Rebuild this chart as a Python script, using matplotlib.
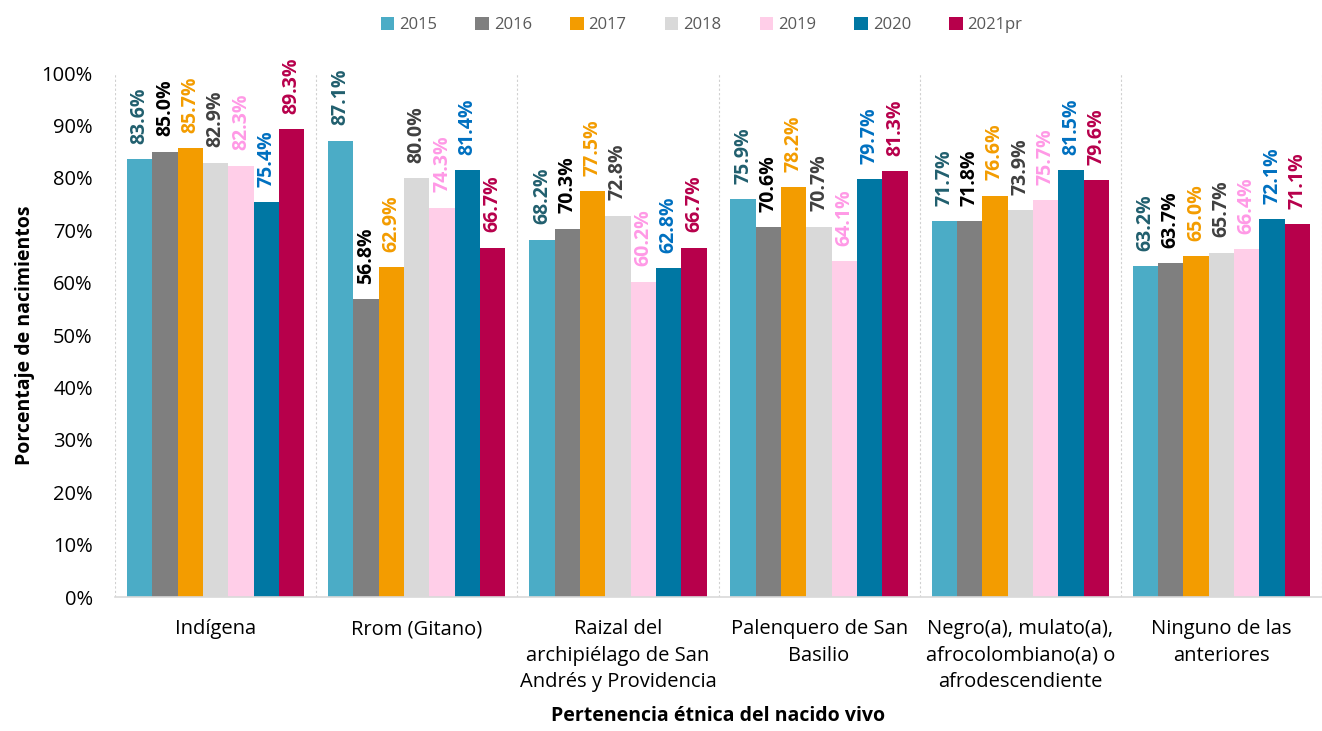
import numpy as np
import matplotlib.pyplot as plt

plt.rcParams['font.family'] = ['Open Sans', 'DejaVu Sans']

categorias = ['Indígena', 'Rrom (Gitano)', 'Raizal del\narchipiélago de San\nAndrés y Providencia',
              'Palenquero de San\nBasilio', 'Negro(a), mulato(a),\nafrocolombiano(a) o\nafrodescendiente',
              'Ninguno de las\nanteriores']
anios = ['2015', '2016', '2017', '2018', '2019', '2020', '2021pr']

v2015 = [83.6, 87.1, 68.2, 75.9, 71.7, 63.2]
v2016 = [85.0, 56.8, 70.3, 70.6, 71.8, 63.7]
v2017 = [85.7, 62.9, 77.5, 78.2, 76.6, 65.0]
v2018 = [82.9, 80.0, 72.8, 70.7, 73.9, 65.7]
v2019 = [82.3, 74.3, 60.2, 64.1, 75.7, 66.4]
v2020 = [75.4, 81.4, 62.8, 79.7, 81.5, 72.1]
v2021 = [89.3, 66.7, 66.7, 81.3, 79.6, 71.1]
series = [v2015, v2016, v2017, v2018, v2019, v2020, v2021]

colores = ['#4BACC6', '#7F7F7F', '#F39C00', '#D9D9D9', '#FFCEE8', '#0077A3', '#B7004B']
colores_txt = ['#215F6E', '#000000', '#F39C00', '#404040', '#FF99E6', '#0070C0', '#B7004B']

fig = plt.figure(figsize=(13.22, 7.31), dpi=100)
ax = fig.add_axes([0.087, 0.1833, 0.913, 0.7168])

x = np.arange(len(categorias))
w = 0.126
for i, (vals, c, ct) in enumerate(zip(series, colores, colores_txt)):
    pos = x + (i - 3) * w
    y = np.array(vals) / 100
    ax.bar(pos, y, width=w, color=c, label=anios[i], zorder=2)
    for px, py, v in zip(pos, y, vals):
        ax.annotate(f'{v:.1f}%', (px, py), xytext=(0, 11), textcoords='offset points',
                    rotation=90, ha='center', va='bottom', color=ct, fontsize=14,
                    fontweight='bold', annotation_clip=False)

# separadores entre grupos
for s in np.arange(-0.5, len(categorias), 1.0):
    ax.axvline(s, color='#D0D0D0', linestyle=(0, (2, 2)), linewidth=0.8, zorder=1)

ax.set_xlim(-0.5, len(categorias) - 0.5)
ax.set_ylim(0, 1.0)
ax.set_yticks(np.arange(0, 1.01, 0.1))
ax.set_yticklabels([f'{int(round(t*100))}%' for t in np.arange(0, 1.01, 0.1)], fontsize=14.5)
ax.set_xticks(x)
ax.set_xticklabels(categorias, fontsize=14.5, linespacing=1.42)
ax.tick_params(axis='y', length=0, pad=16)
ax.tick_params(axis='x', length=0, pad=16)
for sp in ['top', 'right', 'left']:
    ax.spines[sp].set_visible(False)
ax.spines['bottom'].set_color('#D9D9D9')
ax.spines['bottom'].set_linewidth(1.2)

ax.set_ylabel('Porcentaje de nacimientos', fontsize=14, fontweight='bold', labelpad=5)
ax.set_xlabel('Pertenencia étnica del nacido vivo', fontsize=14, fontweight='bold', labelpad=10)

ax.legend(loc='upper center', bbox_to_anchor=(0.486, 1.135), ncol=7, frameon=False,
          fontsize=12, handlelength=0.8, handleheight=0.8, columnspacing=2.3,
          handletextpad=0.3, labelcolor='#595959')

fig.savefig('out.png', dpi=100)
